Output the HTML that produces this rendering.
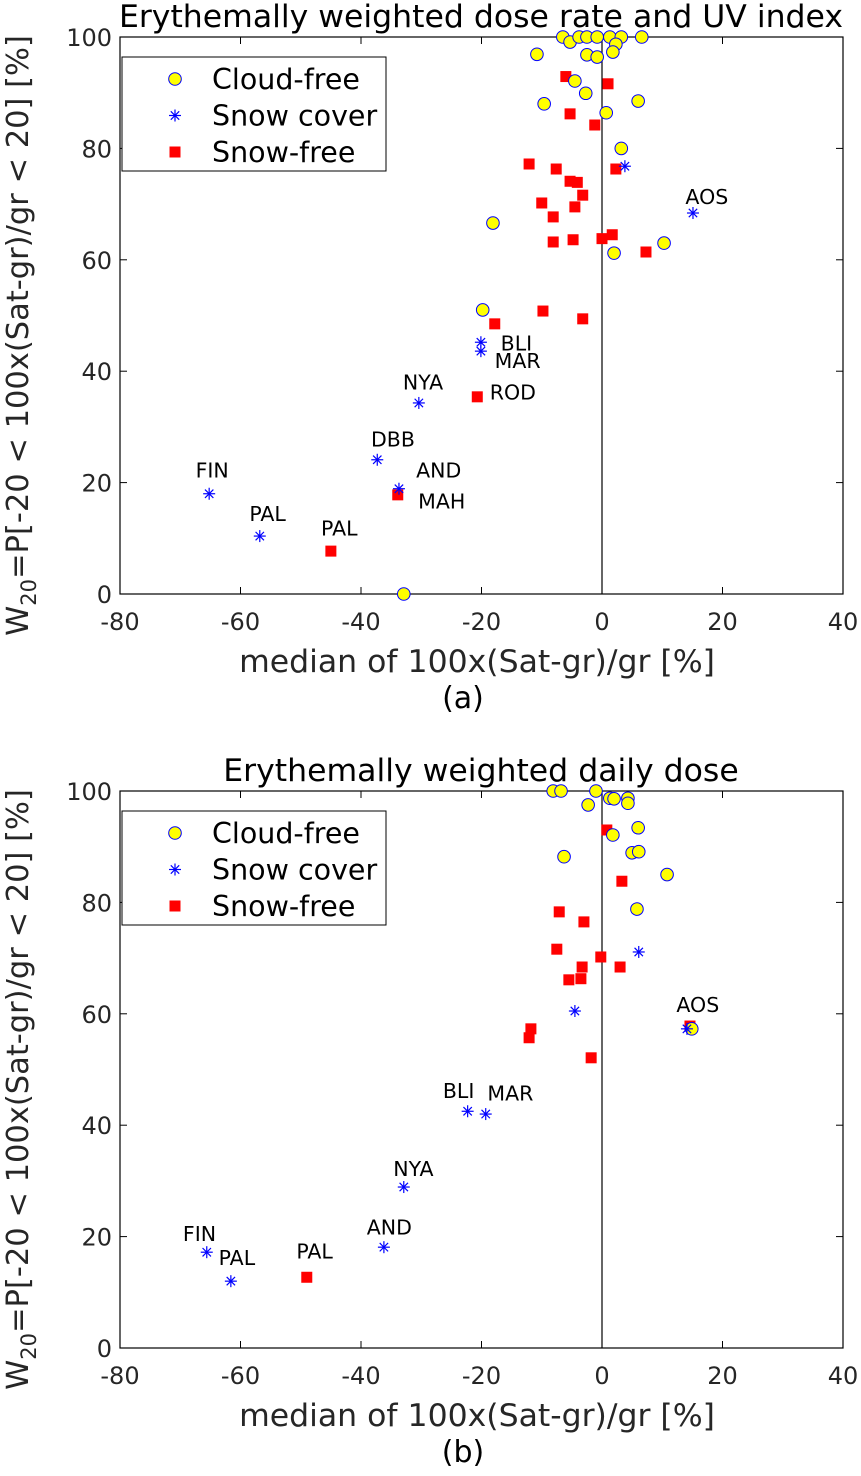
<!DOCTYPE html>
<html><head><meta charset="utf-8"><style>
body{margin:0;background:#fff;}
svg text{font-family:"DejaVu Sans","Liberation Sans",sans-serif;}
</style></head><body>
<svg id="fig" width="861" height="1471" xmlns="http://www.w3.org/2000/svg"></svg>
<script>
const xTicks=[-80,-60,-40,-20,0,20,40];
const yTicks=[0,20,40,60,80,100];
// panel a
const aCloudX=[-6.5,-5.3,-3.8,-2.5,-0.8,1.3,3.2,6.6,2.3,-10.8,-2.5,-0.8,1.8,-4.5,-2.7,-9.6,6,0.7,3.2,-18.1,10.3,2,-19.8,-32.9];
const aCloudY=[100,99.1,100,100,100,100,100,100,98.7,96.9,96.8,96.4,97.3,92.1,89.9,88,88.5,86.4,80,66.6,63,61.2,51,0];
const aFreeX=[-6,1,-5.3,-1.2,-12.1,-7.6,2.3,-5.3,-4.1,-3.2,-10,-4.5,-8.1,-8.1,-4.8,0,1.7,7.3,-9.8,-17.8,-3.2,-20.7,-33.9,-45];
const aFreeY=[92.9,91.6,86.2,84.2,77.2,76.3,76.3,74.1,73.9,71.6,70.2,69.5,67.7,63.2,63.6,63.8,64.5,61.4,50.8,48.5,49.4,35.4,17.8,7.7];
const aSnowX=[3.8,15.1,-20.1,-20.1,-30.4,-37.3,-33.7,-65.2,-56.8];
const aSnowY=[76.8,68.4,45.2,43.6,34.3,24.1,18.9,18,10.4];
const aLabels=["AOS","BLI","MAR","ROD","NYA","DBB","AND","MAH","FIN","PAL","PAL"];
const aLabX=[17.4,-14.2,-14,-14.8,-29.7,-34.7,-27.1,-26.6,-64.7,-55.5,-43.6];
const aLabY=[71.3,45,41.8,36.2,38,27.7,22.2,16.6,22.2,14.4,11.8];
// panel b
const bCloudX=[-8.1,-6.8,-1,1.3,2,4.3,4.3,-2.3,6,1.8,-6.3,5,6.1,10.8,5.8,14.9];
const bCloudY=[100,100,100,98.7,98.6,98.7,97.8,97.5,93.4,92.1,88.2,88.9,89.1,85,78.8,57.3];
const bFreeX=[0.8,3.3,-7.1,-3,-7.5,-0.2,-3.3,3,-5.5,-3.5,-11.8,-12.1,-1.8,14.6,-49];
const bFreeY=[93,83.8,78.3,76.5,71.6,70.2,68.4,68.4,66.1,66.3,57.3,55.7,52.1,57.8,12.7];
const bSnowX=[6.1,-4.5,14.1,-22.3,-19.3,-32.9,-36.2,-65.6,-61.6];
const bSnowY=[71.1,60.5,57.3,42.5,42,28.9,18.1,17.2,12];
const bLabels=["AOS","BLI","MAR","NYA","AND","FIN","PAL","PAL"];
const bLabX=[15.9,-23.8,-15.2,-31.3,-35.3,-66.8,-60.6,-47.7];
const bLabY=[61.6,46.1,45.7,32.1,21.6,20.5,16.2,17.3];

const NS="http://www.w3.org/2000/svg";
const svg=document.getElementById('fig');
function mk(tag,attrs,parent){const e=document.createElementNS(NS,tag);for(const k in attrs)e.setAttribute(k,attrs[k]);(parent||svg).appendChild(e);return e;}

function panel(top,title,letter,cX,cY,fX,fY,sX,sY,labs,lx,ly,id){
  const x0=120,x1=843,y0=top,y1=top+557;
  const sx=v=>x0+(v+80)/120*(x1-x0);
  const sy=v=>y1-v/100*(y1-y0);
  const g=mk('g',{});
  
  
  mk('rect',{x:x0,y:y0,width:x1-x0,height:y1-y0,fill:'none',stroke:'#000','stroke-width':1.2},g);
  xTicks.forEach(t=>{
    mk('line',{x1:sx(t),x2:sx(t),y1:y1,y2:y1-7,stroke:'#000'},g);
    mk('line',{x1:sx(t),x2:sx(t),y1:y0,y2:y0+7,stroke:'#000'},g);
    const tx=mk('text',{x:sx(t),y:y1+36,'font-size':24,'text-anchor':'middle',fill:'#262626'},g);
    tx.textContent=t;
    
    
  });
  yTicks.forEach(t=>{
    mk('line',{x1:x0,x2:x0+7,y1:sy(t),y2:sy(t),stroke:'#000'},g);
    mk('line',{x1:x1,x2:x1-7,y1:sy(t),y2:sy(t),stroke:'#000'},g);
    const tx=mk('text',{x:x0-8,y:sy(t)+9,'font-size':24,'text-anchor':'end',fill:'#262626'},g);
    tx.textContent=t;
    
    
  });
  const zl=mk('line',{x1:sx(0),x2:sx(0),y1:y0,y2:y1,stroke:'#000','stroke-width':1.2},g);
  
  
  const ti=mk('text',{x:481,y:y0-10,'font-size':31.5,'text-anchor':'middle'},g);
  ti.textContent=title;
  
  
  const xl=mk('text',{x:477,y:y1+78,'font-size':31.5,'text-anchor':'middle',fill:'#262626'},g);
  xl.textContent='median of 100x(Sat-gr)/gr [%]';
  
  
  const le=mk('text',{x:463,y:y1+114,'font-size':30,'text-anchor':'middle'},g);
  le.textContent=letter;
  
  
  const yl=mk('text',{x:0,y:0,'font-size':30.5,'text-anchor':'middle',fill:'#262626',transform:`translate(28,${(y0+y1)/2+20}) rotate(-90)`},g);
  yl.innerHTML='W<tspan font-size="21" dy="8">20</tspan><tspan dy="-8">=P[-20 &lt; 100x(Sat-gr)/gr &lt; 20] [%]</tspan>';
  
  
  fX.forEach((v,i)=>{const r=mk('rect',{x:sx(v)-5.5,y:sy(fY[i])-5.5,width:11,height:11,fill:'#ff0000'},g);
    });
  cX.forEach((v,i)=>{const c=mk('circle',{cx:sx(v),cy:sy(cY[i]),r:6.3,fill:'#ffff00',stroke:'#0000ff','stroke-width':1},g);
    });
  const star=(cx,cy,par)=>{const s=mk('g',{stroke:'#0000ff','stroke-width':1.2},par);const r=6;
    mk('line',{x1:cx-r,x2:cx+r,y1:cy,y2:cy},s);mk('line',{x1:cx,x2:cx,y1:cy-r,y2:cy+r},s);
    mk('line',{x1:cx-r*.7,x2:cx+r*.7,y1:cy-r*.7,y2:cy+r*.7},s);mk('line',{x1:cx-r*.7,x2:cx+r*.7,y1:cy+r*.7,y2:cy-r*.7},s);return s;};
  sX.forEach((v,i)=>{const s=star(sx(v),sy(sY[i]),g);
    });
  labs.forEach((t,i)=>{const tx=mk('text',{x:sx(lx[i]),y:sy(ly[i])+7,'font-size':20.5,'text-anchor':'middle'},g);
    tx.textContent=t;});
  const lg=mk('g',{},g);
  
  
  const ly0=y0+20;
  mk('rect',{x:122,y:ly0,width:264,height:114,fill:'#fff',stroke:'#000','stroke-width':1},lg);
  const ents=['Cloud-free','Snow cover','Snow-free'];
  ents.forEach((t,i)=>{const cy=ly0+22+i*36.5;
    if(i==0)mk('circle',{cx:175,cy:cy,r:6.3,fill:'#ffff00',stroke:'#0000ff'},lg);
    if(i==1)star(175,cy,lg);
    if(i==2)mk('rect',{x:169.5,y:cy-5.5,width:11,height:11,fill:'#ff0000'},lg);
    const tx=mk('text',{x:212,y:cy+10,'font-size':28.5},lg);tx.textContent=t;
    });
}
panel(37,'Erythemally weighted dose rate and UV index','(a)',aCloudX,aCloudY,aFreeX,aFreeY,aSnowX,aSnowY,aLabels,aLabX,aLabY,'a');
panel(791,'Erythemally weighted daily dose','(b)',bCloudX,bCloudY,bFreeX,bFreeY,bSnowX,bSnowY,bLabels,bLabX,bLabY,'b');
</script>
</body></html>
